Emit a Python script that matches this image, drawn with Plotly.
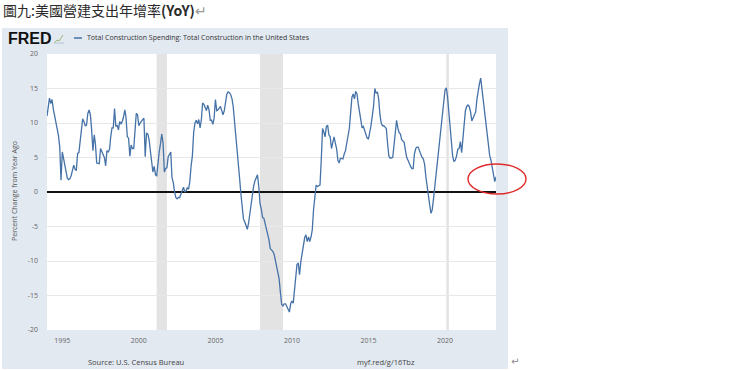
import plotly.graph_objects as go
import pandas as pd

# ---- data: monthly YoY % change, Total Construction Spending ----
y1994 = [11.0, 12.8, 13.6, 12.8, 13.4, 12.0, 11.0, 9.8, 8.6, 8.2, 6.5, 1.7]
y1995 = [5.8, 4.7, 3.8, 2.7, 2.0, 1.8, 1.9, 2.4, 3.2, 3.9, 3.3, 3.1]
y1996 = [5.6, 5.7, 7.3, 9.5, 10.6, 10.2, 9.6, 9.7, 11.4, 11.9, 11.2, 9.0]
y1997 = [6.0, 8.3, 7.0, 4.2, 4.1, 4.1, 6.3, 5.8, 5.2, 5.0, 3.8, 6.0]
y1998 = [5.8, 6.2, 8.0, 9.3, 9.3, 12.1, 9.5, 9.7, 9.0, 10.2, 9.9, 10.2]
y1999 = [10.9, 11.9, 10.8, 8.0, 7.8, 5.2, 6.8, 6.3, 6.3, 9.0, 11.4, 11.2]
y2000 = [9.6, 10.0, 10.3, 10.5, 10.7, 5.1, 8.5, 8.4, 7.6, 6.0, 4.3, 2.9]
y2001 = [3.7, 2.5, 2.3, 4.6, 5.8, 7.0, 8.4, 7.1, 2.9, 3.4, 3.5, 5.1]
y2002 = [5.5, 5.8, 2.1, 1.4, 0.1, -0.8, -1.0, -0.8, -0.8, -0.4, 0.2, 0.7]
y2003 = [0.0, 0.2, 0.6, 0.4, 1.5, 3.8, 5.2, 8.6, 10.0, 10.4, 9.9, 10.5]
y2004 = [9.3, 10.5, 12.9, 12.7, 12.3, 11.8, 12.6, 11.9, 10.4, 10.4, 9.8, 10.7]
y2005 = [13.4, 11.8, 11.9, 12.2, 12.4, 11.8, 11.2, 11.8, 13.5, 14.2, 14.5, 14.4]
y2006 = [14.1, 13.5, 12.4, 10.5, 8.5, 6.5, 4.4, 2.0, -0.3, -2.6, -3.9, -4.3]
y2007 = [-4.8, -5.4, -4.6, -3.2, -1.5, -0.5, 0.8, 1.6, 2.2, 2.5, 0.8, -1.7]
y2008 = [-2.5, -3.7, -3.8, -4.6, -5.6, -6.3, -6.9, -8.2, -8.4, -8.6, -9.0, -10.0]
y2009 = [-11.0, -11.8, -12.6, -14.6, -16.3, -16.5, -16.2, -16.2, -16.6, -17.0, -17.4, -16.2]
y2010 = [-15.8, -16.1, -14.2, -11.4, -10.5, -10.3, -12.0, -10.1, -8.9, -7.9, -6.6, -6.2]
y2011 = [-7.2, -6.5, -7.2, -6.5, -5.5, -2.5, -0.2, 1.0, 0.8, 0.9, 1.0, 4.6]
y2012 = [9.2, 8.7, 8.0, 9.5, 9.7, 8.3, 8.0, 6.3, 7.5, 8.0, 7.1, 6.3]
y2013 = [4.6, 4.2, 4.9, 4.8, 4.8, 5.5, 6.0, 7.1, 8.3, 9.2, 11.5, 13.7]
y2014 = [14.2, 13.5, 14.6, 14.2, 12.8, 11.6, 10.4, 9.3, 9.5, 9.0, 8.3, 7.8]
y2015 = [7.7, 8.5, 9.6, 11.0, 12.4, 15.0, 14.3, 14.5, 13.5, 11.2, 10.0, 9.6]
y2016 = [9.6, 9.4, 9.2, 7.0, 5.2, 4.9, 5.0, 5.0, 6.8, 8.9, 10.4, 9.3]
y2017 = [8.6, 8.4, 7.6, 7.4, 7.2, 6.0, 5.0, 4.6, 4.0, 3.7, 3.4, 3.4]
y2018 = [5.5, 6.3, 6.5, 6.5, 6.0, 5.3, 5.0, 4.8, 4.0, 2.2, 0.5, -0.9]
y2019 = [-1.9, -3.1, -2.6, -1.0, 0.8, 2.5, 4.6, 6.2, 8.0, 9.8, 11.8, 13.8]
y2020 = [14.8, 15.1, 13.8, 11.6, 9.1, 6.8, 5.2, 4.4, 4.6, 5.2, 6.2, 6.3]
y2021 = [7.3, 5.7, 7.4, 9.8, 11.8, 12.4, 12.6, 12.4, 11.6, 10.3, 10.8, 11.4]
y2022 = [11.6, 13.5, 14.8, 15.7, 16.5, 14.8, 13.0, 11.3, 10.1, 8.8, 7.0, 5.3]
y2023 = [4.6, 3.4, 2.3, 1.5, 2.2]

start_month = "1994-01-01"
rec_start = ["2001-03-01", "2007-12-01", "2020-02-01"]
rec_end = ["2001-11-01", "2009-06-01", "2020-04-01"]
tick_years = [1995, 2000, 2005, 2010, 2015, 2020]
y_ticks = [-20, -15, -10, -5, 0, 5, 10, 15, 20]

series_name = "Total Construction Spending: Total Construction in the United States"
y_title = "Percent Change from Year Ago"
source_text = "Source: U.S. Census Bureau"
link_text = "myf.red/g/16Tbz"
heading = "圖九:美國營建支出年增率<b>(YoY)</b><span style='color:#999'>↵</span>"

values = (y1994 + y1995 + y1996 + y1997 + y1998 + y1999 + y2000 + y2001 + y2002 +
          y2003 + y2004 + y2005 + y2006 + y2007 + y2008 + y2009 + y2010 + y2011 +
          y2012 + y2013 + y2014 + y2015 + y2016 + y2017 + y2018 + y2019 + y2020 +
          y2021 + y2022 + y2023)
dates = pd.date_range(start_month, periods=len(values), freq="MS")

# ---- geometry (pixels) ----
W, H = 740, 370
PL, PR, PT, PB = 47, 496, 54, 330


def px(x):
    return (x - PL) / (PR - PL)


def py(y):
    return (PB - y) / (PB - PT)


LINE = "#4572A7"
PANEL = "#e2e9f1"
TXT = "#555555"

fig = go.Figure()
fig.add_trace(go.Scatter(x=dates, y=values, mode="lines",
                         line=dict(color=LINE, width=1.3), hoverinfo="skip"))

shapes = [
    dict(type="rect", xref="paper", yref="paper", x0=px(2), x1=px(508),
         y0=py(369), y1=py(28), fillcolor=PANEL, line=dict(width=0), layer="below"),
    dict(type="rect", xref="paper", yref="paper", x0=0, x1=1, y0=0, y1=1,
         fillcolor="white", line=dict(width=0), layer="below"),
]
for s, e in zip(rec_start, rec_end):
    shapes.append(dict(type="rect", xref="x", yref="paper", x0=s, x1=e, y0=0, y1=1,
                       fillcolor="#e3e3e3", line=dict(width=0), layer="below"))
# legend swatch
shapes.append(dict(type="line", xref="paper", yref="paper", x0=px(74), x1=px(82),
                   y0=py(38), y1=py(38), line=dict(color=LINE, width=1.5)))
# small FRED icon
shapes.append(dict(type="path", xref="paper", yref="paper",
                   path=f"M {px(54)} {py(43)} L {px(57)} {py(40)} L {px(59)} {py(41)} L {px(63)} {py(35)}",
                   line=dict(color="#9fb57a", width=1)))
shapes.append(dict(type="path", xref="paper", yref="paper",
                   path=f"M {px(54)} {py(43)} L {px(64)} {py(43)}",
                   line=dict(color="#b8c4cf", width=1)))
# red ellipse highlight
shapes.append(dict(type="circle", xref="paper", yref="paper", x0=px(468), x1=px(526),
                   y0=py(194), y1=py(164), line=dict(color="#e02a2a", width=1.4)))

annotations = [
    dict(x=px(1), y=py(10), xref="paper", yref="paper", text=heading, showarrow=False,
         xanchor="left", yanchor="middle",
         font=dict(family="Noto Sans CJK TC", size=14, color="#2a2a2a")),
    dict(x=px(6), y=py(38.5), xref="paper", yref="paper", text="<b>FRED</b>", showarrow=False,
         xanchor="left", yanchor="middle",
         font=dict(family="Liberation Sans", size=16, color="#111111")),
    dict(x=px(85), y=py(38), xref="paper", yref="paper", text=series_name, showarrow=False,
         xanchor="left", yanchor="middle",
         font=dict(family="Open Sans", size=7, color="#333333")),
    dict(x=px(14), y=py(191), xref="paper", yref="paper", text=y_title, showarrow=False,
         textangle=-90, xanchor="center", yanchor="middle",
         font=dict(family="Open Sans", size=7, color=TXT)),
    dict(x=px(86), y=py(362), xref="paper", yref="paper", text=source_text, showarrow=False,
         xanchor="left", yanchor="middle",
         font=dict(family="Open Sans", size=7.5, color="#444444")),
    dict(x=px(386), y=py(362), xref="paper", yref="paper", text=link_text, showarrow=False,
         xanchor="center", yanchor="middle",
         font=dict(family="Open Sans", size=7.5, color="#444444")),
    dict(x=px(509), y=py(361), xref="paper", yref="paper", text="↵", showarrow=False,
         xanchor="left", yanchor="middle",
         font=dict(family="DejaVu Sans", size=10, color="#888888")),
]

fig.update_layout(
    width=W, height=H,
    margin=dict(l=PL, r=W - PR, t=PT, b=H - PB, pad=0),
    paper_bgcolor="white", plot_bgcolor="white",
    showlegend=False,
    font=dict(family="Open Sans", size=7, color="#666666"),
    shapes=shapes, annotations=annotations,
    xaxis=dict(type="date", range=[dates[0], dates[-1]], showgrid=False, zeroline=False,
               showline=False, ticks="",
               tickvals=[f"{y}-01-01" for y in tick_years],
               ticktext=[str(y) for y in tick_years],
               tickfont=dict(size=7, color="#666666"), ticklabelstandoff=5),
    yaxis=dict(range=[-20, 20], tickvals=y_ticks, ticktext=[str(v) for v in y_ticks],
               showgrid=True, gridcolor="#e8e8e8", gridwidth=1,
               zeroline=True, zerolinecolor="#111111", zerolinewidth=1.5,
               showline=False, ticks="",
               tickfont=dict(size=7, color="#666666"), ticklabelstandoff=8),
)

fig.write_html("out.html",
               config={"displayModeBar": False},
               post_script="document.body.style.margin='0';document.body.style.padding='0';"
                           "document.body.style.overflow='hidden';")
